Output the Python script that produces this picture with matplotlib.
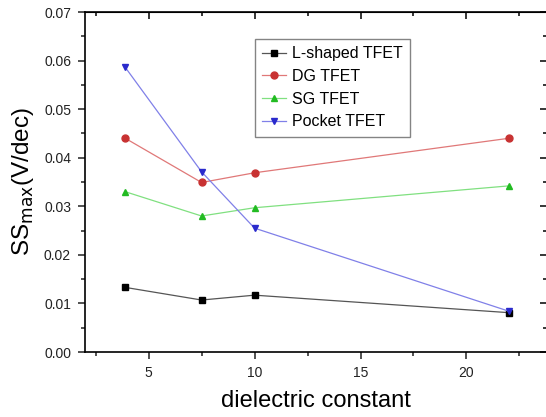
import matplotlib.pyplot as plt
from matplotlib.ticker import MultipleLocator

plt.rcParams['font.family'] = ['Liberation Sans', 'DejaVu Sans']

k = [3.9, 7.5, 10, 22]
ss_lshaped = [0.0133, 0.0107, 0.0117, 0.0081]
ss_dg = [0.0440, 0.0349, 0.0369, 0.0440]
ss_sg = [0.0330, 0.0280, 0.0297, 0.0342]
ss_pocket = [0.0586, 0.0371, 0.0255, 0.0084]
labels = ['L-shaped TFET', 'DG TFET', 'SG TFET', 'Pocket TFET']

fig = plt.figure(figsize=(5.46, 4.17), dpi=100)
ax = fig.add_axes([85 / 546, 65 / 417, 462 / 546, 340 / 417])

series = [
    (ss_lshaped, 's', '#000000', '#555555'),
    (ss_dg, 'o', '#c83232', '#e07878'),
    (ss_sg, '^', '#22bb22', '#80e080'),
    (ss_pocket, 'v', '#2a2acc', '#8080e8'),
]
for (vals, mk, mc, lc), lab in zip(series, labels):
    ax.plot(k, vals, color=lc, lw=0.9, marker=mk, ms=5,
            markerfacecolor=mc, markeredgecolor=mc, label=lab)

ax.set_xlim(2, 23.8)
ax.set_ylim(0, 0.07)
ax.xaxis.set_major_locator(MultipleLocator(5))
ax.xaxis.set_minor_locator(MultipleLocator(2.5))
ax.yaxis.set_major_locator(MultipleLocator(0.01))
ax.yaxis.set_minor_locator(MultipleLocator(0.005))
ax.yaxis.set_major_formatter(plt.FormatStrFormatter('%.2f'))

ax.tick_params(which='both', direction='out', top=False, right=False,
               labelsize=10, width=1.1, colors='#222222')
ax.tick_params(which='major', length=5, pad=5)
ax.tick_params(which='minor', length=3)
# inward ticks on the top and right edges
sec_x = ax.secondary_xaxis('top')
sec_x.xaxis.set_major_locator(MultipleLocator(5))
sec_x.xaxis.set_minor_locator(MultipleLocator(2.5))
sec_x.tick_params(which='both', direction='in', labeltop=False, width=1.1)
sec_x.tick_params(which='major', length=5)
sec_x.tick_params(which='minor', length=3)
sec_y = ax.secondary_yaxis('right')
sec_y.yaxis.set_major_locator(MultipleLocator(0.01))
sec_y.yaxis.set_minor_locator(MultipleLocator(0.005))
sec_y.tick_params(which='both', direction='in', labelright=False, width=1.1)
sec_y.tick_params(which='major', length=5)
sec_y.tick_params(which='minor', length=3)
for s in ax.spines.values():
    s.set_linewidth(1.2)

ax.set_xlabel('dielectric constant', fontsize=17, labelpad=7)
ax.set_ylabel(r'SS$_{\mathrm{max}}$(V/dec)', fontsize=17.5, labelpad=6)

leg = ax.legend(loc='upper left', bbox_to_anchor=(0.368, 0.92), fontsize=11.5,
                frameon=True, fancybox=False, edgecolor='#666666',
                handlelength=1.5, borderpad=0.45, labelspacing=0.48,
                handletextpad=0.35, borderaxespad=0)
leg.get_frame().set_linewidth(1.0)

fig.savefig('out.png', dpi=100)
